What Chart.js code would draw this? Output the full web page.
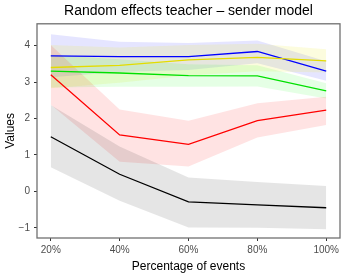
<!DOCTYPE html>
<html>
<head>
<meta charset="utf-8">
<script src="https://cdn.jsdelivr.net/npm/chart.js@4"></script>
<style>
  html, body { margin: 0; padding: 0; background: #fff; }
  #wrap { width: 346px; height: 274px; }
</style>
</head>
<body>
<div id="wrap"><canvas id="effets"></canvas></div>
<script>
// Pourcentage d'evenements (axe x)
const pct = [20, 40, 60, 80, 100];
const yTicks = [-1, 0, 1, 2, 3, 4];

// Estimations et intervalles par serie
const blue = [3.72, 3.70, 3.70, 3.84, 3.30];
const blueLo = [3.13, 3.28, 3.33, 3.52, 3.04];
const blueHi = [4.31, 4.11, 4.07, 4.14, 3.57];

const yellow = [3.40, 3.46, 3.61, 3.68, 3.58];
const yellowLo = [2.83, 2.98, 3.18, 3.30, 3.26];
const yellowHi = [4.02, 3.95, 4.02, 4.05, 3.90];

const green = [3.30, 3.25, 3.18, 3.17, 2.76];
const greenLo = [2.85, 2.87, 2.87, 2.88, 2.55];
const greenHi = [3.75, 3.63, 3.49, 3.46, 2.97];

const red = [3.20, 1.55, 1.29, 1.94, 2.23];
const redLo = [2.38, 0.81, 0.68, 1.48, 1.82];
const redHi = [4.02, 2.25, 1.94, 2.42, 2.60];

const black = [1.50, 0.47, -0.29, -0.37, -0.45];
const blackLo = [0.66, -0.26, -0.99, -1.00, -1.04];
const blackHi = [2.37, 1.23, 0.38, 0.26, 0.15];

const pts = arr => arr.map((v, i) => ({x: pct[i], y: v}));

function band(lo, hi, fillCol) {
  return [
    { data: pts(lo), borderWidth: 0, pointRadius: 0, fill: false, order: 2 },
    { data: pts(hi), borderWidth: 0, pointRadius: 0, fill: '-1', backgroundColor: fillCol, order: 2 }
  ];
}
function line(vals, col) {
  return { data: pts(vals), borderColor: col, borderWidth: 1.3, pointRadius: 0, fill: false, order: 0 };
}

// cadre du panneau
const cadre = {
  id: 'cadre',
  afterDraw(chart) {
    const a = chart.chartArea, c = chart.ctx;
    c.save();
    c.strokeStyle = '#707070';
    c.lineWidth = 1.3;
    c.strokeRect(a.left, a.top, a.right - a.left, a.bottom - a.top);
    c.restore();
  }
};

new Chart(document.getElementById('effets'), {
  type: 'line',
  data: {
    datasets: [
      ...band(blackLo, blackHi, 'rgba(0,0,0,0.1)'),
      ...band(redLo, redHi, 'rgba(255,0,0,0.11)'),
      ...band(greenLo, greenHi, 'rgba(0,255,0,0.1)'),
      ...band(yellowLo, yellowHi, 'rgba(235,235,0,0.13)'),
      ...band(blueLo, blueHi, 'rgba(0,0,255,0.1)'),
      line(black, '#000000'),
      line(red, '#ff0000'),
      line(green, '#00e000'),
      line(yellow, '#e3dc00'),
      line(blue, '#0000ff')
    ]
  },
  options: {
    responsive: true,
    maintainAspectRatio: false,
    animation: false,
    layout: { padding: { left: 3, right: 6, top: 0, bottom: 0 } },
    plugins: {
      legend: { display: false },
      tooltip: { enabled: false },
      title: {
        display: true,
        fullSize: false,
        text: 'Random effects teacher \u2013 sender model',
        color: '#000',
        font: { family: 'Liberation Sans', size: 14, weight: 'normal' },
        padding: { top: 3, bottom: 4 }
      }
    },
    scales: {
      x: {
        type: 'linear',
        min: 16, max: 104,
        afterBuildTicks: s => { s.ticks = pct.map(v => ({value: v})); },
        afterFit: s => { s.height = 36; },
        ticks: {
          color: '#4d4d4d',
          font: { family: 'Liberation Sans', size: 10 },
          padding: 3,
          maxRotation: 0,
          callback: v => v + '%'
        },
        grid: { drawOnChartArea: false, tickLength: 3, color: '#333' },
        border: { display: false },
        title: {
          display: true,
          text: 'Percentage of events',
          color: '#000',
          font: { family: 'Liberation Sans', size: 12 },
          padding: { top: 0, bottom: 0 }
        }
      },
      y: {
        type: 'linear',
        min: -1.28, max: 4.6,
        afterBuildTicks: s => { s.ticks = yTicks.map(v => ({value: v})); },
        afterFit: s => { s.width = 34; },
        ticks: {
          color: '#4d4d4d',
          font: { family: 'Liberation Sans', size: 10 },
          padding: 4,
          callback: v => v < 0 ? '\u2212' + Math.abs(v) : String(v)
        },
        grid: { drawOnChartArea: false, tickLength: 3, color: '#333' },
        border: { display: false },
        title: {
          display: true,
          text: 'Values',
          color: '#000',
          font: { family: 'Liberation Sans', size: 12 },
          padding: { top: 0, bottom: 0 }
        }
      }
    }
  },
  plugins: [cadre]
});
</script>
</body>
</html>
